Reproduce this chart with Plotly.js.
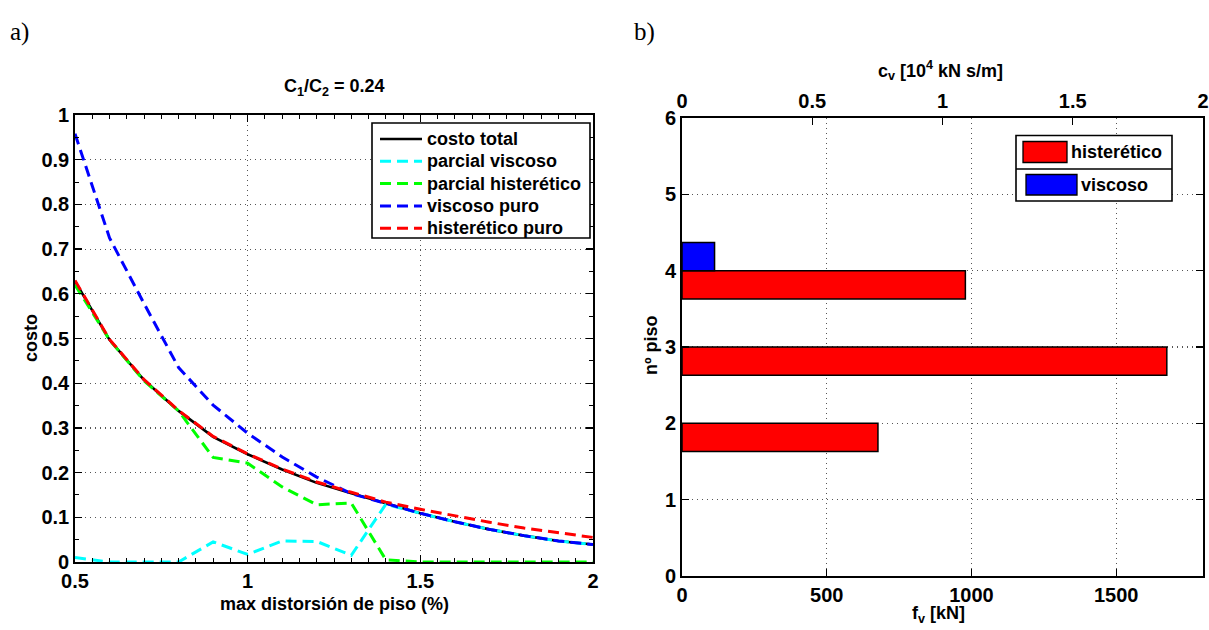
<!DOCTYPE html>
<html>
<head>
<meta charset="utf-8">
<script src="https://cdn.plot.ly/plotly-3.0.1.min.js"></script>
<style>
  html, body { margin: 0; padding: 0; background: #ffffff; }
  #chart { width: 1209px; height: 630px; }
</style>
</head>
<body>
<div id="chart"></div>
<script>
// ---------- data: panel a) ----------
const distorsion = [0.5, 0.6, 0.7, 0.8, 0.9, 1.0, 1.1, 1.2, 1.3, 1.4, 1.5, 1.6, 1.7, 1.8, 1.9, 2.0];
const costoTotal = [0.628, 0.497, 0.407, 0.338, 0.280, 0.241, 0.207, 0.177, 0.154, 0.131, 0.109, 0.090, 0.073, 0.059, 0.047, 0.039];
const parcialViscoso = [0.010, 0.000, 0.000, 0.000, 0.045, 0.017, 0.047, 0.046, 0.015, 0.129, 0.109, 0.090, 0.073, 0.059, 0.047, 0.039];
const parcialHisteretico = [0.620, 0.497, 0.405, 0.338, 0.234, 0.221, 0.168, 0.128, 0.132, 0.005, 0.000, 0.000, 0.000, 0.000, 0.000, 0.000];
const viscosoPuro = [0.958, 0.725, 0.578, 0.435, 0.351, 0.288, 0.235, 0.190, 0.153, 0.131, 0.109, 0.090, 0.073, 0.059, 0.047, 0.039];
const histereticoPuro = [0.630, 0.498, 0.408, 0.339, 0.281, 0.242, 0.208, 0.179, 0.156, 0.134, 0.118, 0.103, 0.089, 0.076, 0.065, 0.055];

const seriesNames = ['costo total', 'parcial viscoso', 'parcial histerético', 'viscoso puro', 'histerético puro'];
const seriesColors = ['#000000', '#00ffff', '#00ff00', '#0000ff', '#ff0000'];

// ---------- data: panel b) ----------
const pisosHist = [2, 3, 4];
const fvHist = [677, 1675, 979];          // kN
const pisosVisc = [4];
const cvVisc = [0.125];                    // 10^4 kN s/m
const barNames = ['histerético', 'viscoso'];
const barColors = ['#ff0000', '#0000ff'];

const xTicksA = [0.5, 1, 1.5, 2];
const xTickTextA = ['0.5', '1', '1.5', '2'];
const yTicksA = [0, 0.1, 0.2, 0.3, 0.4, 0.5, 0.6, 0.7, 0.8, 0.9, 1];
const yTickTextA = ['0', '0.1', '0.2', '0.3', '0.4', '0.5', '0.6', '0.7', '0.8', '0.9', '1'];
const fvTicks = [0, 500, 1000, 1500];
const fvTickText = ['0', '500', '1000', '1500'];
const cvTicks = [0, 0.5, 1, 1.5, 2];
const cvTickText = ['0', '0.5', '1', '1.5', '2'];
const pisoTicks = [0, 1, 2, 3, 4, 5, 6];
const pisoTickText = ['0', '1', '2', '3', '4', '5', '6'];

// ---------- helpers ----------
const W = 1209, H = 630;
const px = v => v / W;
const py = v => 1 - v / H;
const FONT = 'Liberation Sans, Arial, sans-serif';
const tickFont = {family: FONT, size: 20, color: '#000', weight: 'bold'};
const labFont = {family: FONT, size: 18, color: '#000', weight: 'bold'};
const legFont = {family: FONT, size: 18, color: '#000', weight: 'bold'};

const dashed = '11px,6px';
const lineData = [costoTotal, parcialViscoso, parcialHisteretico, viscosoPuro, histereticoPuro];
const traces = [];
lineData.forEach((ys, i) => {
  traces.push({
    type: 'scatter', mode: 'lines', x: distorsion, y: ys,
    name: seriesNames[i], xaxis: 'x', yaxis: 'y',
    line: {color: seriesColors[i], width: i === 0 ? 2.6 : 3, dash: i === 0 ? 'solid' : dashed},
    showlegend: false
  });
});

traces.push({
  type: 'bar', orientation: 'h', y: pisosHist, x: fvHist, name: barNames[0],
  xaxis: 'x2', yaxis: 'y2', width: 0.37, offset: -0.37,
  marker: {color: barColors[0], line: {color: '#000', width: 1.5}}, showlegend: false
});
traces.push({
  type: 'bar', orientation: 'h', y: pisosVisc, x: cvVisc, name: barNames[1],
  xaxis: 'x3', yaxis: 'y2', width: 0.37, offset: 0,
  marker: {color: barColors[1], line: {color: '#000', width: 1.5}}, showlegend: false
});

const axBase = {
  showline: true, linecolor: '#000', linewidth: 1.8, ticks: 'inside', ticklen: 7,
  tickcolor: '#000', tickwidth: 1.3, tickfont: tickFont, zeroline: false,
  showgrid: true, gridcolor: '#555', griddash: '1px,4px', gridwidth: 1.2, fixedrange: true
};

// ---------- legends (drawn from the series names / colours) ----------
const shapes = [];
const annotations = [];
// panel a legend
const legA = {x0: 372, x1: 590, y0: 123, y1: 238, rowTop: 139, rowGap: 22.3, l0: 380, l1: 422, tx: 425};
shapes.push({type: 'rect', xref: 'paper', yref: 'paper', x0: px(legA.x0), x1: px(legA.x1),
  y0: py(legA.y1), y1: py(legA.y0), line: {color: '#000', width: 1.6}, fillcolor: '#fff', layer: 'above'});
seriesNames.forEach((nm, i) => {
  const yy = legA.rowTop + i * legA.rowGap;
  shapes.push({type: 'line', xref: 'paper', yref: 'paper', x0: px(legA.l0), x1: px(legA.l1), y0: py(yy), y1: py(yy),
    line: {color: seriesColors[i], width: i === 0 ? 2.6 : 3, dash: i === 0 ? 'solid' : dashed}, layer: 'above'});
  annotations.push({text: nm, x: px(legA.tx), y: py(yy), xref: 'paper', yref: 'paper', xanchor: 'left',
    yanchor: 'middle', showarrow: false, font: legFont});
});
// panel b legend
shapes.push(
  {type: 'rect', xref: 'paper', yref: 'paper', x0: px(1016), x1: px(1172), y0: py(201), y1: py(135.5),
    line: {color: '#000', width: 1.6}, fillcolor: '#fff', layer: 'above'},
  {type: 'line', xref: 'paper', yref: 'paper', x0: px(1016), x1: px(1172), y0: py(169), y1: py(169),
    line: {color: '#000', width: 1.6}, layer: 'above'},
  {type: 'rect', xref: 'paper', yref: 'paper', x0: px(1023), x1: px(1067), y0: py(162.5), y1: py(141.5),
    line: {color: '#000', width: 1.3}, fillcolor: barColors[0], layer: 'above'},
  {type: 'rect', xref: 'paper', yref: 'paper', x0: px(1026), x1: px(1077), y0: py(195), y1: py(174.5),
    line: {color: '#000', width: 1.3}, fillcolor: barColors[1], layer: 'above'}
);
annotations.push(
  {text: barNames[0], x: px(1069), y: py(152), xref: 'paper', yref: 'paper',
    xanchor: 'left', yanchor: 'middle', showarrow: false, font: legFont},
  {text: barNames[1], x: px(1079), y: py(185), xref: 'paper', yref: 'paper',
    xanchor: 'left', yanchor: 'middle', showarrow: false, font: legFont}
);

// ---------- panel labels and axis titles ----------
annotations.push(
  {text: 'a)', x: px(8), y: py(32), xref: 'paper', yref: 'paper', xanchor: 'left', yanchor: 'middle',
    showarrow: false, font: {family: 'Liberation Serif, Times New Roman, serif', size: 25, color: '#000'}},
  {text: 'b)', x: px(632), y: py(32), xref: 'paper', yref: 'paper', xanchor: 'left', yanchor: 'middle',
    showarrow: false, font: {family: 'Liberation Serif, Times New Roman, serif', size: 25, color: '#000'}},
  {text: 'C<sub>1</sub>/C<sub>2</sub> = 0.24', x: px(334), y: py(88), xref: 'paper', yref: 'paper',
    xanchor: 'center', yanchor: 'middle', showarrow: false, font: labFont},
  {text: 'costo', x: px(31), y: py(338), xref: 'paper', yref: 'paper', textangle: -90,
    xanchor: 'center', yanchor: 'middle', showarrow: false, font: labFont},
  {text: 'max distorsión de piso (%)', x: px(334), y: py(604), xref: 'paper', yref: 'paper',
    xanchor: 'center', yanchor: 'middle', showarrow: false, font: labFont},
  {text: 'nº piso', x: px(651), y: py(345), xref: 'paper', yref: 'paper', textangle: -90,
    xanchor: 'center', yanchor: 'middle', showarrow: false, font: labFont},
  {text: 'f<sub>v</sub> [kN]', x: px(938), y: py(614), xref: 'paper', yref: 'paper',
    xanchor: 'center', yanchor: 'middle', showarrow: false, font: labFont},
  {text: 'c<sub>v</sub> [10<sup>4</sup> kN s/m]', x: px(940), y: py(70), xref: 'paper', yref: 'paper',
    xanchor: 'center', yanchor: 'middle', showarrow: false, font: labFont}
);

const minorA = dt => ({dtick: dt, ticks: 'inside', ticklen: 4, tickcolor: '#000', tickwidth: 1, showgrid: false});

const layout = {
  width: W, height: H, margin: {l: 0, r: 0, t: 0, b: 0},
  paper_bgcolor: '#fff', plot_bgcolor: '#fff', barmode: 'overlay', showlegend: false,
  xaxis: Object.assign({}, axBase, {
    domain: [px(75), px(593)], range: [0.5, 2], tickvals: xTicksA, ticktext: xTickTextA,
    anchor: 'y', mirror: 'allticks', minor: minorA(0.05)
  }),
  yaxis: Object.assign({}, axBase, {
    domain: [py(562), py(115)], range: [0, 1], tickvals: yTicksA, ticktext: yTickTextA,
    anchor: 'x', mirror: 'allticks', minor: minorA(0.05)
  }),
  xaxis2: Object.assign({}, axBase, {
    domain: [px(682), px(1203)], range: [0, 1800], tickvals: fvTicks, ticktext: fvTickText,
    anchor: 'y2', mirror: false
  }),
  xaxis3: Object.assign({}, axBase, {
    overlaying: 'x2', side: 'top', anchor: 'y2', range: [0, 2],
    tickvals: cvTicks, ticktext: cvTickText, showgrid: false
  }),
  yaxis2: Object.assign({}, axBase, {
    domain: [py(576), py(118)], range: [0, 6], tickvals: pisoTicks, ticktext: pisoTickText,
    anchor: 'x2', mirror: 'ticks'
  }),
  shapes: shapes,
  annotations: annotations
};

Plotly.newPlot('chart', traces, layout, {displayModeBar: false, staticPlot: true});
</script>
</body>
</html>
